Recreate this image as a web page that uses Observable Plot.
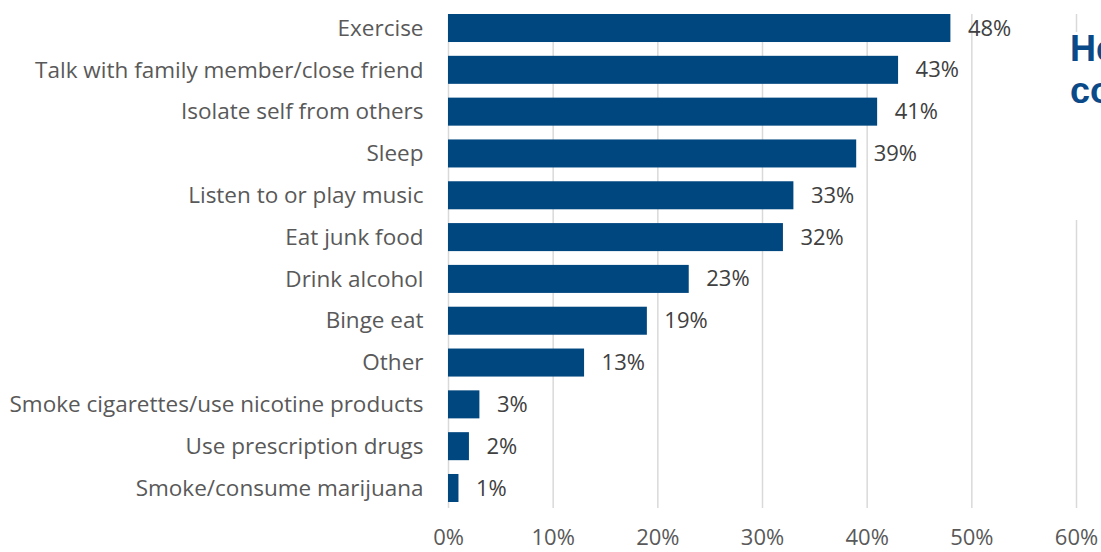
<!DOCTYPE html>
<html>
<head>
<meta charset="utf-8">
<script src="https://cdn.jsdelivr.net/npm/d3@7"></script>
<script src="https://cdn.jsdelivr.net/npm/@observablehq/plot@0.6"></script>
<style>
  html, body { margin: 0; padding: 0; overflow: hidden; background: #fff; }
  #wrap { position: relative; width: 1101px; height: 552px; overflow: hidden; }
  #title-box { position: absolute; left: 1070px; top: 32px; width: 31px; height: 188px; background: #fff; overflow: hidden; }
  #title { margin-top: -4px; padding-left: 0px; font-family: "Liberation Sans", Arial, sans-serif; font-weight: bold; font-size: 36px; line-height: 42px; color: #0b4a89; white-space: nowrap; }
</style>
</head>
<body>
<div id="wrap">
  <div id="chart"></div>
  <div id="title-box"><div id="title">He<br>co</div></div>
</div>
<script>
const categories = [
  "Exercise",
  "Talk with family member/close friend",
  "Isolate self from others",
  "Sleep",
  "Listen to or play music",
  "Eat junk food",
  "Drink alcohol",
  "Binge eat",
  "Other",
  "Smoke cigarettes/use nicotine products",
  "Use prescription drugs",
  "Smoke/consume marijuana"
];
const values = [48, 43, 41, 39, 33, 32, 23, 19, 13, 3, 2, 1];
const xTicks = [0, 10, 20, 30, 40, 50, 60];

const data = categories.map((c, i) => ({category: c, value: values[i]}));

const chart = Plot.plot({
  width: 1101,
  height: 552,
  marginLeft: 448,
  marginRight: 25,
  marginTop: 14,
  marginBottom: 44,
  style: {fontFamily: "'Open Sans', sans-serif", fontSize: "22px", color: "#595959", background: "#fff", overflow: "visible"},
  x: {domain: [0, 60], label: null},
  y: {domain: categories, range: [14, 502], paddingInner: 0.33, paddingOuter: 0, round: false, label: null},
  marks: [
    Plot.gridX(xTicks, {stroke: "#d9d9d9", strokeOpacity: 1, strokeWidth: 1.5}),
    Plot.barX(data, {x: "value", y: "category", fill: "#00467f"}),
    Plot.text(data, {x: "value", y: "category", text: d => d.value + "%", textAnchor: "start", dx: 17, fill: "#404040", fontSize: 22}),
    Plot.axisX(xTicks, {tickSize: 0, tickPadding: 21, tickFormat: d => d + "%", fill: "#595959", fontSize: 22, label: null}),
    Plot.axisY({tickSize: 0, tickPadding: 25, fill: "#595959", fontSize: 22.5, label: null})
  ]
});
document.getElementById("chart").appendChild(chart);
</script>
</body>
</html>
